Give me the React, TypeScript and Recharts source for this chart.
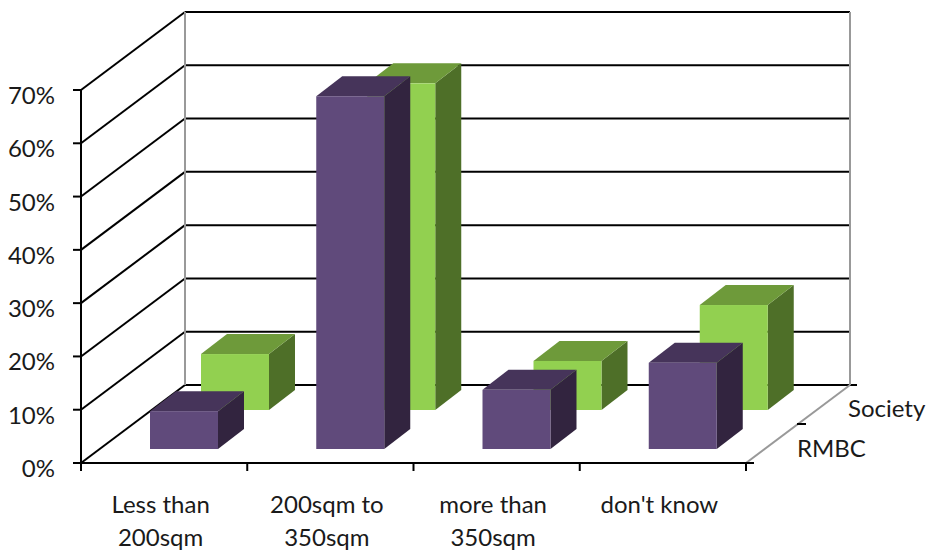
import { Bar, BarChart, CartesianGrid, XAxis, YAxis } from 'recharts';

const categories = [['Less than', '200sqm'], ['200sqm to', '350sqm'], ['more than', '350sqm'], ["don't know"]];
const rmbcValues = [7.1, 66.2, 11.1, 16.2];
const societyValues = [10.5, 61.3, 9.2, 19.7];
const valueTicks = [0, 10, 20, 30, 40, 50, 60, 70];

const chartData = categories.map((lines, i) => ({
  category: lines.join(' '),
  RMBC: rmbcValues[i],
  Society: societyValues[i],
}));

const FONT = 'Lato, sans-serif';
const FONT_SIZE = 24;
const TEXT_COLOR = '#1a1a1a';
const WALL_COLOR = '#999999';
const LINE_WIDTH = 2;

// plot rectangle of the front plane, and how far the floor recedes behind it
const LEFT = 81;
const TOP = 90;
const RIGHT = 746;
const BOTTOM = 463;
const DEPTH_X = 104;
const DEPTH_Y = 78;

const purple = { front: '#604a7b', top: '#46345a', side: '#32243f' };
const green = { front: '#92d050', top: '#6e9a3a', side: '#4e6f28' };

type BoxProps = { x: number; y: number; width: number; height: number };
type BoxColors = typeof purple;

// Extruded bar: the row offset moves it back along the floor, then three faces are drawn
function box(colors: BoxColors, rowX: number, rowY: number) {
  return function BoxShape({ x, y, width, height }: BoxProps) {
    const dx = 26;
    const dy = 20;
    const l = x + rowX;
    const r = l + width;
    const t = y - rowY;
    const b = t + height;
    return (
      <g>
        <polygon points={`${r},${t} ${r + dx},${t - dy} ${r + dx},${b - dy} ${r},${b}`} fill={colors.side} />
        <polygon points={`${l},${t} ${l + dx},${t - dy} ${r + dx},${t - dy} ${r},${t}`} fill={colors.top} />
        <rect x={l} y={t} width={width} height={height} fill={colors.front} />
      </g>
    );
  };
}

// Each value line runs up the side wall and across the back wall
function WallLine({ x1, x2, y1 }: { x1: number; x2: number; y1: number }) {
  const backY = y1 - DEPTH_Y;
  const isFloor = y1 >= BOTTOM - 0.5;
  return (
    <g>
      <line x1={x1} y1={y1} x2={x1 + DEPTH_X} y2={backY} stroke="#000" strokeWidth={LINE_WIDTH} />
      <line x1={x1 + DEPTH_X} y1={backY} x2={x2 + DEPTH_X + (isFloor ? 7 : 0)} y2={backY} stroke="#000" strokeWidth={LINE_WIDTH} />
    </g>
  );
}

function Frame() {
  const band = (RIGHT - LEFT) / categories.length;
  return (
    <g>
      <line x1={LEFT + DEPTH_X} y1={TOP - DEPTH_Y} x2={LEFT + DEPTH_X} y2={BOTTOM - DEPTH_Y} stroke={WALL_COLOR} strokeWidth={LINE_WIDTH} />
      <line x1={RIGHT + DEPTH_X} y1={TOP - DEPTH_Y} x2={RIGHT + DEPTH_X} y2={BOTTOM - DEPTH_Y} stroke={WALL_COLOR} strokeWidth={LINE_WIDTH} />
      <line x1={RIGHT} y1={BOTTOM} x2={RIGHT + DEPTH_X} y2={BOTTOM - DEPTH_Y} stroke={WALL_COLOR} strokeWidth={LINE_WIDTH} />
      {categories.map((_, i) => (
        <line key={i} x1={LEFT + band * (i + 1)} y1={BOTTOM} x2={LEFT + band * (i + 1)} y2={BOTTOM + 8} stroke="#000" strokeWidth={LINE_WIDTH} />
      ))}
      <line x1={LEFT} y1={BOTTOM} x2={LEFT} y2={BOTTOM + 8} stroke="#000" strokeWidth={LINE_WIDTH} />
      <line x1={RIGHT} y1={BOTTOM} x2={RIGHT + 8} y2={BOTTOM} stroke="#000" strokeWidth={LINE_WIDTH} />
      <line x1={797} y1={424} x2={806} y2={424} stroke="#000" strokeWidth={LINE_WIDTH} />
      <text x={848} y={417} fontFamily={FONT} fontSize={FONT_SIZE} fill={TEXT_COLOR}>Society</text>
      <text x={797} y={457} fontFamily={FONT} fontSize={FONT_SIZE} fill={TEXT_COLOR}>RMBC</text>
    </g>
  );
}

function ValueTick({ y, payload }: { y: number; payload: { value: number } }) {
  return (
    <text x={55} y={y + 14} textAnchor="end" fontFamily={FONT} fontSize={FONT_SIZE} fill={TEXT_COLOR}>
      {`${payload.value}%`}
    </text>
  );
}

function CategoryTick({ x, payload, index }: { x: number; payload: { value: string }; index: number }) {
  const lines = categories[index] ?? [payload.value];
  return (
    <text textAnchor="middle" fontFamily={FONT} fontSize={FONT_SIZE} fill={TEXT_COLOR}>
      {lines.map((line, i) => (
        <tspan key={line} x={x - 3.5} y={513 + i * 33}>{line}</tspan>
      ))}
    </text>
  );
}

export default function App() {
  return (
    <div style={{ position: 'absolute', left: 0, top: 0 }}>
      <BarChart
        width={928}
        height={550}
        data={chartData}
        margin={{ top: TOP, right: 928 - RIGHT, bottom: 0, left: 0 }}
        barSize={68}
      >
        <CartesianGrid
          xAxisId="front"
          vertical={false}
          horizontal={(props: any) => <WallLine key={props.key ?? props.y1} x1={props.x1} x2={props.x2} y1={props.y1} />}
        />
        <XAxis
          xAxisId="front"
          dataKey="category"
          height={550 - BOTTOM}
          interval={0}
          tickLine={false}
          axisLine={{ stroke: '#000', strokeWidth: LINE_WIDTH }}
          tick={(props: any) => <CategoryTick {...props} />}
        />
        <XAxis xAxisId="back" dataKey="category" height={0} hide />
        <YAxis
          width={LEFT}
          domain={[0, 70]}
          ticks={valueTicks}
          interval={0}
          tickSize={8}
          tickLine={{ stroke: '#000', strokeWidth: LINE_WIDTH }}
          axisLine={{ stroke: '#000', strokeWidth: LINE_WIDTH }}
          tick={(props: any) => <ValueTick {...props} />}
        />
        <Frame />
        <Bar xAxisId="back" dataKey="Society" isAnimationActive={false} shape={box(green, 71, 53) as any} />
        <Bar xAxisId="front" dataKey="RMBC" isAnimationActive={false} shape={box(purple, 20, 14) as any} />
      </BarChart>
    </div>
  );
}
